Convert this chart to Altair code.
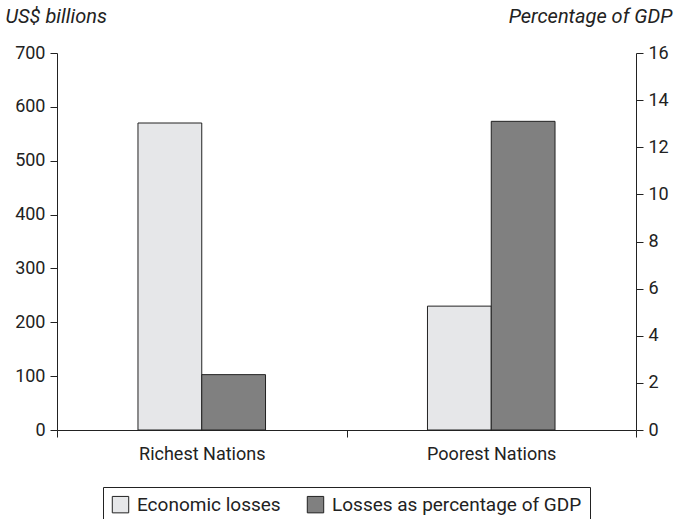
import altair as alt
import pandas as pd

nations = ["Richest Nations", "Poorest Nations"]
economic_losses = [570, 230]          # US$ billions
pct_of_gdp = [2.35, 13.1]             # percentage of GDP
series = ["Economic losses", "Losses as percentage of GDP"]
colors = ["#e6e7e9", "#808080"]

df1 = pd.DataFrame({"nation": nations, "value": economic_losses, "series": series[0]})
df2 = pd.DataFrame({"nation": nations, "value": pct_of_gdp, "series": series[1]})

FONT = "Roboto"
FS = 18

x_enc = alt.X("nation:N", sort=nations, title=None,
              scale=alt.Scale(paddingInner=0, paddingOuter=0),
              axis=alt.Axis(labelAngle=0, tickBand="extent", ticks=True, tickSize=7, grid=False,
                            labelPadding=8, domainColor="#222", tickColor="#222",
                            labelFontSize=FS, labelColor="#222", labelFont=FONT))
offset_domain = ["_left_gap"] + series + ["_right_gap"]
xoff = alt.XOffset("series:N", scale=alt.Scale(domain=offset_domain, paddingInner=0, paddingOuter=0.27))
color = alt.Color("series:N", scale=alt.Scale(domain=series, range=colors),
                  legend=alt.Legend(title=None, orient="none", legendX=46, legendY=434,
                                    direction="horizontal", strokeColor="#222",
                                    padding=8, symbolType="square", symbolSize=270,
                                    symbolStrokeColor="#222", symbolStrokeWidth=1,
                                    labelFontSize=19, labelFont=FONT, labelColor="#222",
                                    labelOffset=7, labelLimit=0, columnPadding=24,
                                    symbolOffset=0))

left = alt.Chart(df1).mark_bar(stroke="#222", strokeWidth=1).encode(
    x=x_enc, xOffset=xoff, color=color,
    y=alt.Y("value:Q", scale=alt.Scale(domain=[0, 700]),
            axis=alt.Axis(title="US$ billions", values=list(range(0, 701, 100)), grid=False,
                          tickSize=7, domainColor="#222", tickColor="#222",
                          labelFontSize=FS, labelFont=FONT, labelColor="#222", labelPadding=5,
                          titleAngle=0, titleX=-52, titleY=-27, titleAlign="left",
                          titleFontStyle="italic", titleFontWeight="normal",
                          titleFontSize=20, titleFont=FONT, titleColor="#222"))
)
right = alt.Chart(df2).mark_bar(stroke="#222", strokeWidth=1).encode(
    x=x_enc, xOffset=xoff, color=color,
    y=alt.Y("value:Q", scale=alt.Scale(domain=[0, 16]),
            axis=alt.Axis(title="Percentage of GDP", orient="right", values=list(range(0, 17, 2)),
                          grid=False, tickSize=7, domainColor="#222", tickColor="#222",
                          labelFontSize=FS, labelFont=FONT, labelColor="#222", labelPadding=5,
                          titleAngle=0, titleX=36, titleY=-27, titleAlign="right",
                          titleFontStyle="italic", titleFontWeight="normal",
                          titleFontSize=20, titleFont=FONT, titleColor="#222"))
)

chart = alt.layer(left, right).resolve_scale(y="independent").properties(
    width=579, height=377,
    background="white",
    autosize=alt.AutoSizeParams(type="none"),
    padding={"left": 57, "top": 53, "right": 46, "bottom": 89},
).configure_view(stroke="transparent", strokeWidth=0).configure_axis(grid=False)

chart.save("out.html", embed_options={"renderer": "svg", "actions": False})
